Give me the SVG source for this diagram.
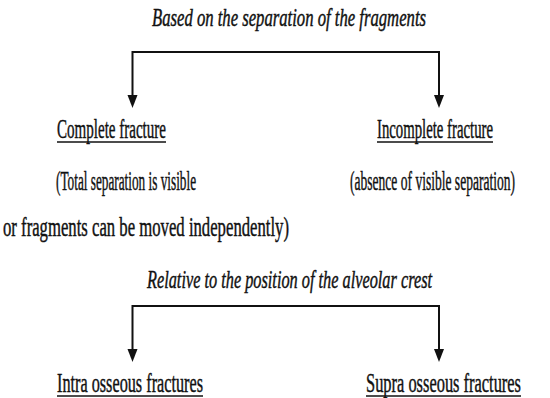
<svg xmlns="http://www.w3.org/2000/svg" width="550" height="398" viewBox="0 0 550 398">
<style>
text{fill:#111;stroke:#111;stroke-width:0.45;font-size:27px}
.h{font-style:italic;font-size:25px}
.ul{stroke:#111;stroke-width:1.6}
.c{stroke:#111;stroke-width:2;fill:none}
.ah{fill:#111}
</style>
<rect width="550" height="398" fill="#fff"/>
<g font-family="Liberation Serif, serif">
<g id="title1" transform="translate(152,25.5) scale(0.6665,1)"><text class="h" font-family="Liberation Serif, serif" x="0" y="0" textLength="411.1" lengthAdjust="spacingAndGlyphs">Based on the separation of the fragments</text></g>
<g id="complete">
<g transform="translate(57,138) scale(0.5784,1)"><text font-family="Liberation Serif, serif" x="0" y="0" textLength="188.45" lengthAdjust="spacingAndGlyphs">Complete fracture</text></g>
<line class="ul" x1="57" y1="142" x2="166" y2="142"/>
<g transform="translate(56,190) scale(0.5062,1)"><text font-family="Liberation Serif, serif" x="0" y="0" textLength="276.6" lengthAdjust="spacingAndGlyphs">(Total separation is visible</text></g>
<g transform="translate(3,236) scale(0.642,1)"><text font-family="Liberation Serif, serif" x="0" y="0" textLength="445.5" lengthAdjust="spacingAndGlyphs">or fragments can be moved independently)</text></g>
</g>
<g id="incomplete">
<g transform="translate(377,138) scale(0.5678,1)"><text font-family="Liberation Serif, serif" x="0" y="0" textLength="204.3" lengthAdjust="spacingAndGlyphs">Incomplete fracture</text></g>
<line class="ul" x1="377" y1="142" x2="493" y2="142"/>
<g transform="translate(350,190) scale(0.5205,1)"><text font-family="Liberation Serif, serif" x="0" y="0" textLength="317" lengthAdjust="spacingAndGlyphs">(absence of visible separation)</text></g>
</g>
<g id="title2" transform="translate(147,287.5) scale(0.6504,1)"><text class="h" font-family="Liberation Serif, serif" x="0" y="0" textLength="438.2" lengthAdjust="spacingAndGlyphs">Relative to the position of the alveolar crest</text></g>
<g id="intra">
<g transform="translate(57,392) scale(0.6242,1)"><text font-family="Liberation Serif, serif" x="0" y="0" textLength="233.9" lengthAdjust="spacingAndGlyphs">Intra osseous fractures</text></g>
<line class="ul" x1="57" y1="396" x2="203" y2="396"/>
</g>
<g id="supra">
<g transform="translate(366,392) scale(0.6314,1)"><text font-family="Liberation Serif, serif" x="0" y="0" textLength="245.5" lengthAdjust="spacingAndGlyphs">Supra osseous fractures</text></g>
<line class="ul" x1="366" y1="396" x2="521" y2="396"/>
</g>
</g>
<g id="connectors">
<path class="c" d="M132.5,97 V52 H439 V97"/>
<polygon class="ah" points="127.5,95 137.5,95 132.5,108"/>
<polygon class="ah" points="434,95 444,95 439,108"/>
<path class="c" d="M132.5,351 V306 H439 V351"/>
<polygon class="ah" points="127.5,349 137.5,349 132.5,362"/>
<polygon class="ah" points="434,349 444,349 439,362"/>
</g>
</svg>
